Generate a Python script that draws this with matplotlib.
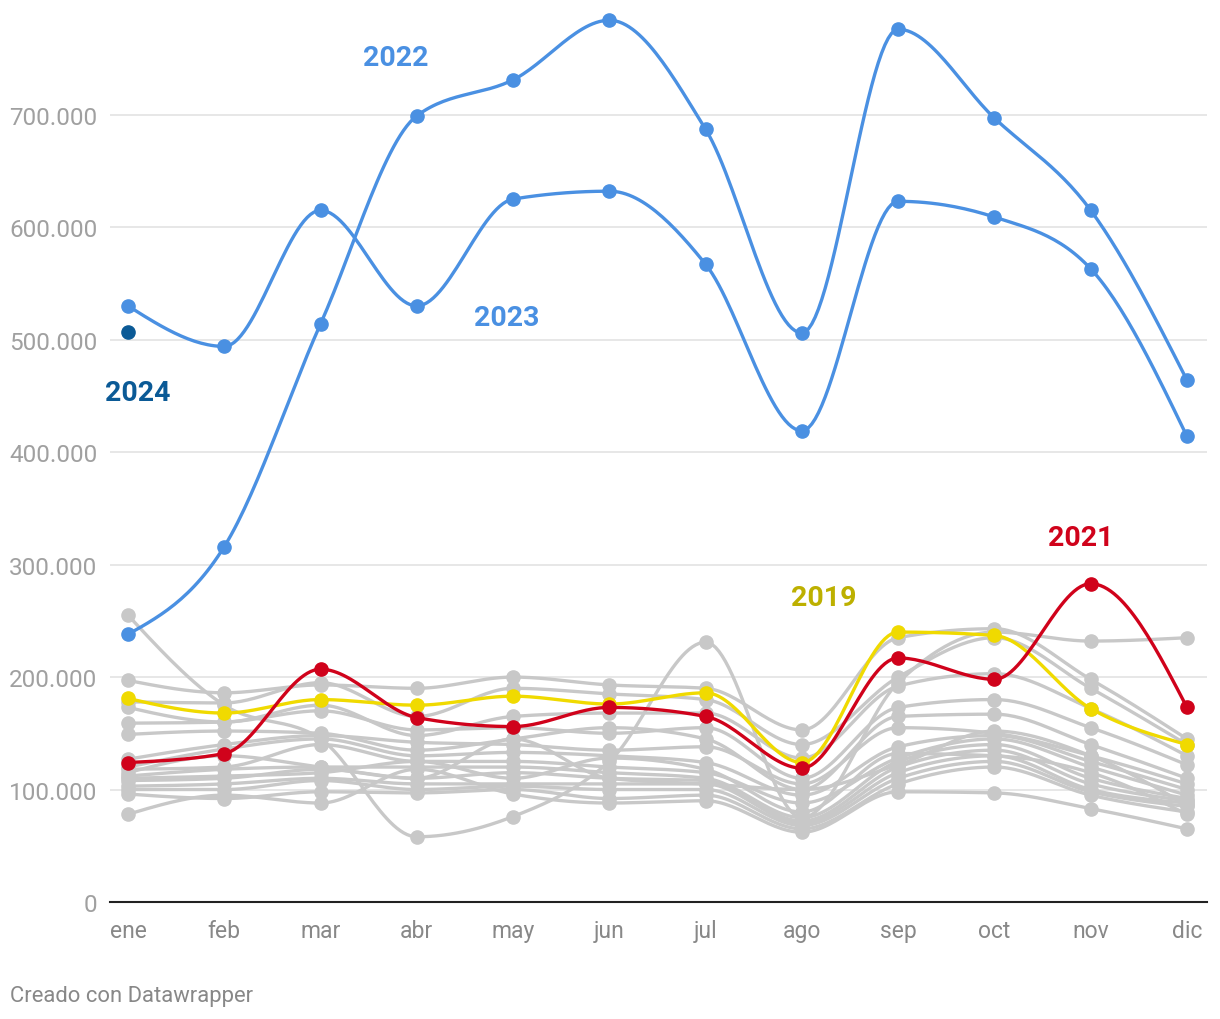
import numpy as np
import matplotlib
matplotlib.use("Agg")
import matplotlib.pyplot as plt
from matplotlib.ticker import FuncFormatter

# ---------- DATA --------------
meses = ["ene", "feb", "mar", "abr", "may", "jun", "jul", "ago", "sep", "oct", "nov", "dic"]

serie_2022 = [238, 316, 514, 699, 731, 784, 687, 506, 776, 697, 615, 464]
serie_2023 = [530, 494, 615, 530, 625, 632, 567, 419, 623, 609, 563, 414]
serie_2024 = [507]
serie_2021 = [124, 132, 207, 164, 156, 173, 165, 119, 217, 198, 283, 173]
serie_2019 = [181, 168, 180, 175, 183, 176, 186, 124, 240, 237, 172, 140]

# other years (grey)
otros = [
    [255, 175, 145, 58, 76, 125, 231, 75, 195, 240, 232, 235],
    [197, 186, 193, 190, 200, 193, 190, 153, 235, 243, 198, 145],
    [178, 177, 195, 165, 190, 185, 180, 140, 200, 235, 190, 140],
    [173, 160, 175, 148, 165, 168, 168, 128, 192, 203, 172, 130],
    [159, 160, 170, 153, 155, 150, 155, 110, 173, 180, 155, 122],
    [149, 152, 150, 135, 145, 155, 145, 100, 165, 167, 140, 110],
    [127, 140, 148, 142, 140, 135, 138, 105, 155, 150, 130, 105],
    [120, 136, 145, 130, 133, 130, 124, 95, 138, 148, 125, 100],
    [118, 120, 140, 125, 125, 120, 115, 88, 128, 145, 120, 95],
    [112, 118, 120, 120, 120, 115, 110, 75, 125, 140, 110, 92],
    [108, 110, 118, 110, 115, 110, 108, 72, 120, 135, 105, 90],
    [103, 105, 110, 105, 105, 105, 105, 70, 115, 130, 100, 88],
    [100, 100, 108, 100, 103, 100, 100, 68, 110, 125, 98, 85],
    [96, 92, 98, 97, 100, 92, 95, 65, 105, 120, 95, 80],
    [78, 95, 88, 118, 96, 88, 90, 62, 98, 97, 83, 65],
    [115, 130, 120, 110, 145, 110, 105, 100, 122, 152, 130, 86],
    [110, 112, 115, 125, 110, 128, 118, 80, 132, 130, 115, 78],
]
# ------------------------------

plt.rcParams['font.family'] = ['Roboto', 'DejaVu Sans']

AZUL = "#4a90e2"
ROJO = "#d0021b"
AMARILLO = "#f0da00"
GRIS = "#c8c8c8"


def monotone(xs, ys, n=30):
    # monotone cubic (like d3.curveMonotoneX)
    xs = np.asarray(xs, float)
    ys = np.asarray(ys, float)
    h = np.diff(xs)
    s = np.diff(ys) / h
    t = np.zeros(len(xs))
    for i in range(1, len(xs) - 1):
        p = (s[i - 1] * h[i] + s[i] * h[i - 1]) / (h[i - 1] + h[i])
        t[i] = (np.sign(s[i - 1]) + np.sign(s[i])) * min(abs(s[i - 1]), abs(s[i]), 0.5 * abs(p))
    t[0] = (3 * s[0] - t[1]) / 2
    t[-1] = (3 * s[-1] - t[-2]) / 2
    outx, outy = [], []
    for i in range(len(xs) - 1):
        u = np.linspace(0, 1, n)
        h00 = 2 * u**3 - 3 * u**2 + 1
        h10 = u**3 - 2 * u**2 + u
        h01 = -2 * u**3 + 3 * u**2
        h11 = u**3 - u**2
        outx.extend(xs[i] + u * h[i])
        outy.extend(h00 * ys[i] + h10 * h[i] * t[i] + h01 * ys[i + 1] + h11 * h[i] * t[i + 1])
    return np.array(outx), np.array(outy)


fig = plt.figure(figsize=(12.2, 10.2), dpi=100)
ax = fig.add_axes([110 / 1220, (1020 - 903) / 1020, 1097 / 1220, 893 / 1020])

x = np.arange(len(meses))


def linea(vals, color, z):
    v = np.array(vals) * 1000
    sx, sy = monotone(x[:len(v)], v)
    ax.plot(sx, sy, color=color, lw=2.4, zorder=z, solid_capstyle="round")
    ax.plot(x[:len(v)], v, "o", color=color, ms=9.5, zorder=z)


for s in otros:
    linea(s, GRIS, 2)
linea(serie_2019, AMARILLO, 3)
linea(serie_2021, ROJO, 4)
linea(serie_2023, AZUL, 5)
linea(serie_2022, AZUL, 5)
ax.plot(x[:1], np.array(serie_2024) * 1000, "o", color="#0b5a96", ms=9.5, zorder=6)

ax.set_xlim(-0.187, 11.208)
ax.set_ylim(0, 794000)
ax.set_yticks(np.arange(0, 800000, 100000))
ax.yaxis.set_major_formatter(FuncFormatter(lambda v, p: f"{int(v):,}".replace(",", ".")))
ax.set_xticks(x)
ax.set_xticklabels(meses)
ax.grid(axis="y", color="#e3e3e3", lw=1.2, zorder=0)
for sp in ["top", "right", "left"]:
    ax.spines[sp].set_visible(False)
ax.spines["bottom"].set_color("#222222")
ax.spines["bottom"].set_linewidth(1.5)
ax.spines["bottom"].set_zorder(10)
ax.tick_params(axis="x", length=0, pad=12, labelsize=16.5, labelcolor="#888888")
ax.tick_params(axis="y", length=0, pad=9, labelsize=17.5, labelcolor="#a0a0a0")

# labels of the highlighted years
kw = dict(fontsize=20.5, fontweight="bold", ha="center", va="center")
ax.text(2.78, 751000, "2022", color=AZUL, **kw)
ax.text(3.93, 520000, "2023", color=AZUL, **kw)
ax.text(0.1, 453000, "2024", color="#0b5a96", **kw)
ax.text(9.9, 324000, "2021", color=ROJO, **kw)
ax.text(7.23, 271000, "2019", color="#bdb000", **kw)

fig.text(10 / 1220, 1 - 997 / 1020, "Creado con Datawrapper", color="#888888", fontsize=15.8,
         ha="left", va="center")

fig.savefig("out.png", dpi=100)
